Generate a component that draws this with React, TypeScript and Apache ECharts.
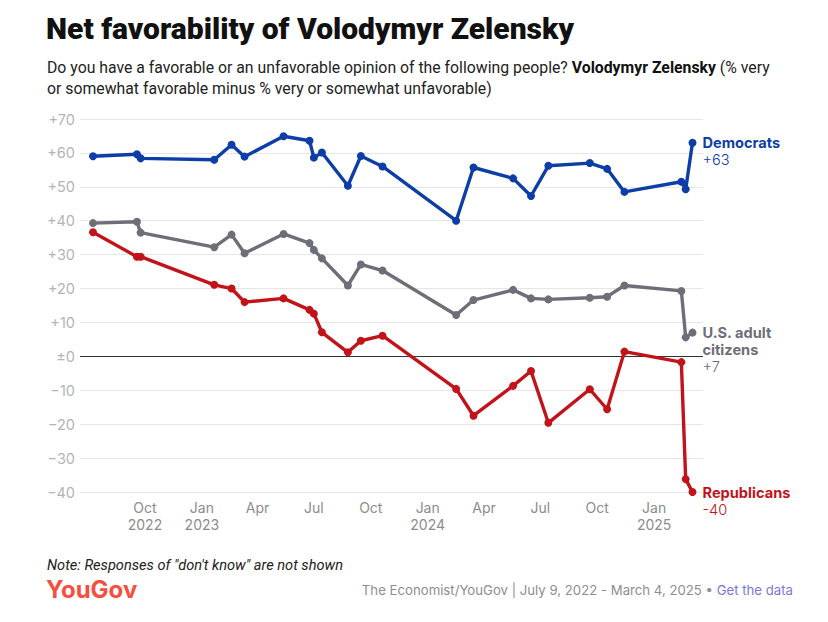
import React, { useEffect, useRef } from "react";
import * as echarts from "echarts";

// Survey end dates
const dates = [
  "2022-07-09", "2022-09-18", "2022-09-24", "2023-01-21", "2023-02-18", "2023-03-11",
  "2023-05-13", "2023-06-24", "2023-07-01", "2023-07-14", "2023-08-25", "2023-09-15",
  "2023-10-20", "2024-02-16", "2024-03-15", "2024-05-18", "2024-06-16", "2024-07-14",
  "2024-09-19", "2024-10-17", "2024-11-14", "2025-02-14", "2025-02-21", "2025-03-04",
];

const democrats = [59, 59.6, 58.4, 58, 62.4, 58.9, 64.9, 63.6, 58.6, 60.1, 50.3, 59.1, 56, 40, 55.7, 52.5, 47.3, 56.2, 57, 55.3, 48.5, 51.5, 49.3, 63];
const adults = [39.3, 39.7, 36.5, 32.2, 35.9, 30.4, 36.1, 33.4, 31.4, 28.9, 20.9, 27.1, 25.3, 12.2, 16.6, 19.6, 17.1, 16.8, 17.3, 17.6, 20.9, 19.3, 5.6, 7];
const republicans = [36.6, 29.4, 29.4, 21.1, 20, 16, 17.1, 13.7, 12.6, 7.1, 1.2, 4.6, 6.1, -9.6, -17.5, -8.7, -4.3, -19.6, -9.7, -15.6, 1.4, -1.7, -36.2, -40];

const tickDates = [
  "2022-10-01", "2023-01-01", "2023-04-01", "2023-07-01", "2023-10-01",
  "2024-01-01", "2024-04-01", "2024-07-01", "2024-10-01", "2025-01-01",
];
const monthNames = ["Jan", "Feb", "Mar", "Apr", "May", "Jun", "Jul", "Aug", "Sep", "Oct", "Nov", "Dec"];

const xMin = "2022-06-18";
const xMax = "2025-03-21";

const BLUE = "#0d3ea8";
const GRAY = "#6d6e77";
const RED = "#c2131b";

const fmtTick = (v: number) => (v > 0 ? "+" + v : v === 0 ? "±0" : "\u2212" + Math.abs(v));
const fmtEnd = (v: number) => (v > 0 ? "+" + v : v === 0 ? "±0" : "-" + Math.abs(v));

export default function App() {
  const ref = useRef<HTMLDivElement>(null);
  useEffect(() => {
    if (!ref.current) return;
    const chart = echarts.init(ref.current, undefined, { renderer: "svg" });
    const toPairs = (vals: number[]) => dates.map((d, i) => [Date.parse(d), vals[i]]);
    const firstTick = Date.parse(tickDates[0]);

    const makeSeries = (name: string, vals: number[], color: string, label: string) => ({
      type: "line",
      name,
      data: toPairs(vals),
      symbol: "circle",
      symbolSize: 8,
      lineStyle: { color, width: 3.4 },
      itemStyle: { color },
      z: 3,
      endLabel: {
        show: true,
        distance: 10,
        verticalAlign: "top",
        offset: [0, -8],
        formatter: () => {
          const last = Math.round(vals[vals.length - 1]);
          return `{n|${label}}\n{v|${fmtEnd(last)}}`;
        },
        rich: {
          n: { fontFamily: "Inter", fontWeight: "bold", fontSize: 14.6, color, lineHeight: 17 },
          v: { fontFamily: "Inter", fontWeight: 300, fontSize: 14.6, color, lineHeight: 17 },
        },
      },
    });

    const option: any = {
      animation: false,
      backgroundColor: "#ffffff",
      grid: { left: 80, right: 125, top: 119, bottom: 130, containLabel: false },
      xAxis: {
        type: "value",
        min: Date.parse(xMin),
        max: Date.parse(xMax),
        axisLine: { show: false },
        axisTick: { show: false },
        splitLine: { show: false },
        axisLabel: {
          customValues: tickDates.map((d) => Date.parse(d)),
          margin: 7,
          fontFamily: "Inter",
          fontSize: 14,
          color: "#8c8c8c",
          lineHeight: 17,
          formatter: (v: number) => {
            const d = new Date(v);
            const m = d.getUTCMonth();
            const name = monthNames[m];
            if (m === 0 || Math.abs(v - firstTick) < 86400000) return name + "\n" + d.getUTCFullYear();
            return name;
          },
        },
      },
      yAxis: {
        type: "value",
        min: -40,
        max: 70,
        interval: 10,
        axisLine: { show: false },
        axisTick: { show: false },
        splitLine: { lineStyle: { color: "#e6e6e6", width: 1 } },
        axisLabel: {
          margin: 5,
          fontFamily: "Inter",
          fontSize: 14.5,
          color: "#b4b4b4",
          formatter: (v: number) => fmtTick(v),
        },
      },
      series: [
        {
          ...makeSeries("U.S. adult citizens", adults, GRAY, "U.S. adult\ncitizens"),
          markLine: {
            silent: true,
            symbol: "none",
            label: { show: false },
            lineStyle: { color: "#333333", width: 1, type: "solid" },
            data: [{ yAxis: 0 }],
            z: 1,
          },
        },
        makeSeries("Republicans", republicans, RED, "Republicans"),
        makeSeries("Democrats", democrats, BLUE, "Democrats"),
      ],
      graphic: [
        {
          type: "text",
          left: 46,
          top: 13,
          style: {
            text: "Net favorability of Volodymyr Zelensky",
            fontFamily: "Roboto",
            fontWeight: 900,
            fontSize: 30,
            fill: "#111111",
          },
        },
        {
          type: "text",
          left: 47,
          top: 59,
          style: {
            text:
              "{r|Do you have a favorable or an unfavorable opinion of the following people? }{b|Volodymyr Zelensky}{r| (% very}\n{r|or somewhat favorable minus % very or somewhat unfavorable)}",
            rich: {
              r: { fontFamily: "Roboto", fontSize: 15.8, fill: "#222222", lineHeight: 21 },
              b: { fontFamily: "Roboto", fontWeight: "bold", fontSize: 15.8, fill: "#111111", lineHeight: 21 },
            },
          },
        },
        {
          type: "text",
          left: 47,
          top: 557,
          style: {
            text: 'Note: Responses of "don\'t know" are not shown',
            fontFamily: "Roboto",
            fontStyle: "italic",
            fontSize: 14.6,
            fill: "#222222",
          },
        },
        {
          type: "text",
          left: 46,
          top: 577,
          style: {
            text: "YouGov",
            fontFamily: "Inter",
            fontWeight: "bold",
            fontSize: 24,
            fill: "#f5503f",
          },
        },
        {
          type: "text",
          right: 35,
          top: 583,
          style: {
            text: "{g|The Economist/YouGov | July 9, 2022 - March 4, 2025 • }{l|Get the data}",
            rich: {
              g: { fontFamily: "Inter", fontSize: 13.2, fill: "#8e8e8e" },
              l: { fontFamily: "Inter", fontSize: 13.2, fill: "#7b78d8" },
            },
          },
        },
      ],
    };
    chart.setOption(option);
    return () => chart.dispose();
  }, []);
  return (
    <div
      ref={ref}
      style={{ position: "absolute", left: 0, top: 0, width: 828, height: 622, background: "#fff" }}
    />
  );
}
